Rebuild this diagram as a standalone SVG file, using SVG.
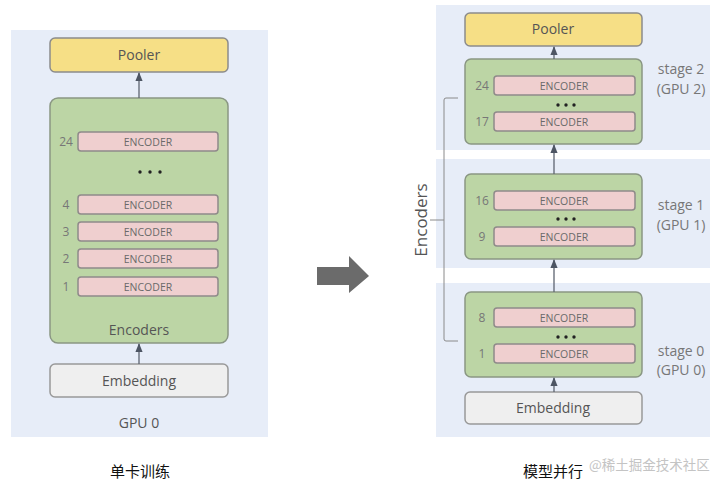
<svg xmlns="http://www.w3.org/2000/svg" width="720" height="491" viewBox="0 0 720 491">
<defs>
<style>
.panel{fill:#e7edf8}
.pool{fill:#f6df86;stroke:#8c8c8c;stroke-width:1.5}
.grp{fill:#bcd5a5;stroke:#8a9783;stroke-width:1.5}
.enc{fill:#efcfcf;stroke:#8f8a8a;stroke-width:1.5}
.emb{fill:#efefef;stroke:#999;stroke-width:1.5}
.t{font-family:"Open Sans","Liberation Sans",sans-serif;fill:#555;text-anchor:middle}
.et{font-family:"Open Sans","Liberation Sans",sans-serif;fill:#6a6a6a;font-size:10.5px;text-anchor:middle}
.num{font-family:"Open Sans","Liberation Sans",sans-serif;fill:#777;font-size:12px;text-anchor:middle}
.dots{fill:#222}
.cap{font-family:"Noto Sans CJK SC",sans-serif;fill:#111;font-size:15px;text-anchor:middle}
.st{font-family:"Open Sans","Liberation Sans",sans-serif;fill:#777;font-size:14px;text-anchor:middle}
.line{stroke:#5d6470;stroke-width:1.3;fill:none}
</style>
<marker id="ah" viewBox="0 0 10 10" refX="9" refY="5" markerWidth="7" markerHeight="7" orient="auto">
<path d="M0,1 L10,5 L0,9 z" fill="#4d5563"/>
</marker>
</defs>

<g id="panel-left"><rect class="panel" x="11" y="30" width="257" height="407"/></g>
<g id="panel-stage2"><rect class="panel" x="436" y="5" width="274" height="145"/></g>
<g id="panel-stage1"><rect class="panel" x="436" y="159" width="274" height="109"/></g>
<g id="panel-stage0"><rect class="panel" x="436" y="283" width="274" height="154"/></g>

<!-- Left -->
<g id="pooler-left">
<rect class="pool" x="50" y="38" width="178" height="34" rx="5"/>
<text class="t" x="139" y="60" font-size="14">Pooler</text>
</g>
<g id="encoders-left">
<rect class="grp" x="50" y="98" width="178" height="245" rx="8"/>
<text class="t" x="139" y="335" font-size="14" fill="#5a6a50">Encoders</text>
<rect class="enc" x="78" y="132" width="140" height="19" rx="3"/><text class="et" x="148" y="145.5">ENCODER</text><text class="num" x="66" y="146">24</text>
<circle class="dots" cx="140" cy="172" r="1.7"/><circle class="dots" cx="150" cy="172" r="1.7"/><circle class="dots" cx="160" cy="172" r="1.7"/>
<rect class="enc" x="78" y="195" width="140" height="19" rx="3"/><text class="et" x="148" y="208.5">ENCODER</text><text class="num" x="66" y="209">4</text>
<rect class="enc" x="78" y="222" width="140" height="19" rx="3"/><text class="et" x="148" y="235.5">ENCODER</text><text class="num" x="66" y="236">3</text>
<rect class="enc" x="78" y="249" width="140" height="19" rx="3"/><text class="et" x="148" y="262.5">ENCODER</text><text class="num" x="66" y="263">2</text>
<rect class="enc" x="78" y="277" width="140" height="19" rx="3"/><text class="et" x="148" y="290.5">ENCODER</text><text class="num" x="66" y="291">1</text>
</g>
<g id="embedding-left">
<rect class="emb" x="50" y="364" width="178" height="33" rx="5"/>
<text class="t" x="139" y="386" font-size="14">Embedding</text>
</g>
<text class="t" x="139" y="428" font-size="14" fill="#777">GPU 0</text>
<text class="cap" x="140" y="477">单卡训练</text>

<!-- Big arrow -->
<g id="big-arrow"><path d="M317,267 L349,267 L349,256 L369,276 L349,293 L349,285 L317,285 z" fill="#6b6b6b"/></g>

<!-- Right -->
<g id="pooler-right">
<rect class="pool" x="465" y="13" width="177" height="33" rx="5"/>
<text class="t" x="553" y="34" font-size="14">Pooler</text>
</g>
<g id="stage2">
<rect class="grp" x="465" y="59" width="177" height="85" rx="6"/>
<rect class="enc" x="494" y="76" width="141" height="19" rx="3"/><text class="et" x="564" y="89.5">ENCODER</text><text class="num" x="482" y="90">24</text>
<circle class="dots" cx="558" cy="105" r="1.7"/><circle class="dots" cx="566" cy="105" r="1.7"/><circle class="dots" cx="574" cy="105" r="1.7"/>
<rect class="enc" x="494" y="112" width="141" height="19" rx="3"/><text class="et" x="564" y="125.5">ENCODER</text><text class="num" x="482" y="126">17</text>
<text class="st" x="681" y="74">stage 2</text><text class="st" x="681" y="94">(GPU 2)</text>
</g>
<g id="stage1">
<rect class="grp" x="465" y="174" width="177" height="85" rx="6"/>
<rect class="enc" x="494" y="191" width="141" height="19" rx="3"/><text class="et" x="564" y="204.5">ENCODER</text><text class="num" x="482" y="205">16</text>
<circle class="dots" cx="558" cy="219" r="1.7"/><circle class="dots" cx="566" cy="219" r="1.7"/><circle class="dots" cx="574" cy="219" r="1.7"/>
<rect class="enc" x="494" y="227" width="141" height="19" rx="3"/><text class="et" x="564" y="240.5">ENCODER</text><text class="num" x="482" y="241">9</text>
<text class="st" x="681" y="210">stage 1</text><text class="st" x="681" y="230">(GPU 1)</text>
</g>
<g id="stage0">
<rect class="grp" x="465" y="292" width="177" height="85" rx="6"/>
<rect class="enc" x="494" y="308" width="141" height="19" rx="3"/><text class="et" x="564" y="321.5">ENCODER</text><text class="num" x="482" y="322">8</text>
<circle class="dots" cx="558" cy="337" r="1.7"/><circle class="dots" cx="566" cy="337" r="1.7"/><circle class="dots" cx="574" cy="337" r="1.7"/>
<rect class="enc" x="494" y="344" width="141" height="19" rx="3"/><text class="et" x="564" y="357.5">ENCODER</text><text class="num" x="482" y="358">1</text>
<text class="st" x="681" y="356">stage 0</text><text class="st" x="681" y="375">(GPU 0)</text>
</g>
<g id="embedding-right">
<rect class="emb" x="465" y="392" width="177" height="32" rx="5"/>
<text class="t" x="553" y="413" font-size="14">Embedding</text>
</g>
<g id="encoders-brace">
<path d="M458,98 L446,98 Q444,98 444,100 L444,339 Q444,341 446,341 L458,341 M430,220 L444,220" stroke="#8a8a8a" stroke-width="1" fill="none"/>
<text class="t" font-size="17" fill="#666" transform="translate(427,220) rotate(-90)">Encoders</text>
</g>
<text class="cap" x="553" y="477">模型并行</text>
<text x="589" y="470" font-family="Noto Sans CJK SC,sans-serif" font-size="13.5" fill="#c4c4c4">@稀土掘金技术社区</text>

<g id="connectors">
<line class="line" x1="139" y1="98" x2="139" y2="73" marker-end="url(#ah)"/>
<line class="line" x1="139" y1="364" x2="139" y2="344" marker-end="url(#ah)"/>
<line class="line" x1="554" y1="59" x2="554" y2="47" marker-end="url(#ah)"/>
<line class="line" x1="554" y1="174" x2="554" y2="145" marker-end="url(#ah)"/>
<line class="line" x1="554" y1="292" x2="554" y2="260" marker-end="url(#ah)"/>
<line class="line" x1="554" y1="392" x2="554" y2="378" marker-end="url(#ah)"/>
</g>
</svg>
